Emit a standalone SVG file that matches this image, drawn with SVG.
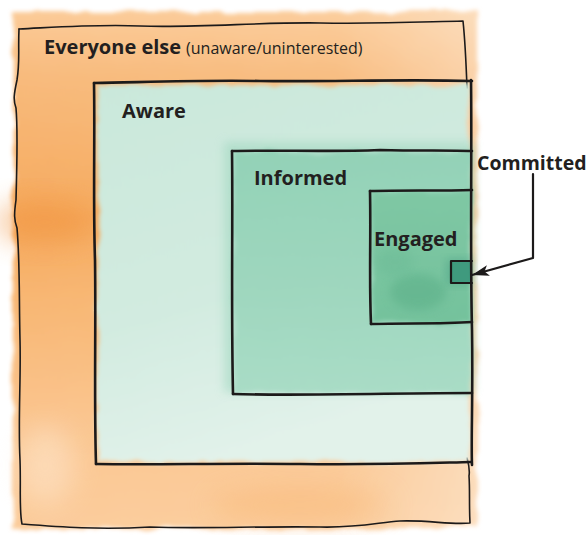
<svg xmlns="http://www.w3.org/2000/svg" width="588" height="535" viewBox="0 0 588 535">
  <defs>
    <style>
      .ink { fill: none; stroke: #1c1a1a; stroke-linecap: round; stroke-linejoin: round; }
      .thin { stroke-width: 1.6; }
      .thick { stroke-width: 2.6; }
      .label { font-family: "Open Sans", "Noto Sans", "Liberation Sans", sans-serif; font-weight: 700; font-size: 20px; fill: #231f20; }
      .note { font-family: "Open Sans", "Noto Sans", "Liberation Sans", sans-serif; font-weight: 400; font-size: 16px; fill: #231f20; }
    </style>
    <!-- soft, ragged watercolour edges -->
    <filter id="wash" x="-10%" y="-10%" width="120%" height="120%">
      <feTurbulence type="fractalNoise" baseFrequency="0.035" numOctaves="3" seed="4" result="n"/>
      <feDisplacementMap in="SourceGraphic" in2="n" scale="9" xChannelSelector="R" yChannelSelector="G" result="d"/>
      <feGaussianBlur in="d" stdDeviation="2.2"/>
    </filter>
    <filter id="blob" x="-50%" y="-50%" width="200%" height="200%">
      <feGaussianBlur stdDeviation="14"/>
    </filter>
    <filter id="soft" x="-20%" y="-20%" width="140%" height="140%">
      <feGaussianBlur stdDeviation="5"/>
    </filter>
    <linearGradient id="orangeV" x1="0" y1="0" x2="0" y2="1">
      <stop offset="0" stop-color="#fbcb98"/>
      <stop offset="0.12" stop-color="#f8bb7d"/>
      <stop offset="0.4" stop-color="#f6aa5e"/>
      <stop offset="0.55" stop-color="#f8b672"/>
      <stop offset="0.8" stop-color="#fac58f"/>
      <stop offset="1" stop-color="#fbcc9b"/>
    </linearGradient>
    <linearGradient id="orangeH" x1="0" y1="0" x2="1" y2="0">
      <stop offset="0" stop-color="#ffffff" stop-opacity="0"/>
      <stop offset="0.7" stop-color="#ffffff" stop-opacity="0.05"/>
      <stop offset="1" stop-color="#ffffff" stop-opacity="0.35"/>
    </linearGradient>
    <linearGradient id="awareFill" x1="0" y1="0" x2="0.3" y2="1">
      <stop offset="0" stop-color="#cae8db"/>
      <stop offset="0.6" stop-color="#d2ebe0"/>
      <stop offset="1" stop-color="#e2f2ea"/>
    </linearGradient>
    <linearGradient id="informedFill" x1="0" y1="0" x2="0" y2="1">
      <stop offset="0" stop-color="#93d2b7"/>
      <stop offset="0.5" stop-color="#9dd6bd"/>
      <stop offset="1" stop-color="#a9dcc6"/>
    </linearGradient>
    <linearGradient id="engagedFill" x1="0" y1="0" x2="0" y2="1">
      <stop offset="0" stop-color="#7fc7a4"/>
      <stop offset="1" stop-color="#74c29c"/>
    </linearGradient>
    <marker id="head" markerUnits="userSpaceOnUse" markerWidth="18" markerHeight="12" refX="17" refY="6" orient="auto">
      <path d="M0,0.5 L17,6 L0,11.5 L4,6 z" fill="#1c1a1a"/>
    </marker>
  </defs>

  <rect width="588" height="535" fill="#ffffff"/>

  <!-- Outermost population -->
  <g id="everyone-else">
    <g filter="url(#wash)">
      <rect x="13" y="12" width="464" height="516" fill="url(#orangeV)"/>
      <rect x="13" y="12" width="464" height="516" fill="url(#orangeH)"/>
    </g>
    <ellipse cx="45" cy="222" rx="50" ry="22" fill="#f0913a" opacity="0.5" filter="url(#blob)"/>
    <ellipse cx="45" cy="465" rx="30" ry="40" fill="#fff3e4" opacity="0.4" filter="url(#blob)"/>
    <ellipse cx="300" cy="505" rx="90" ry="18" fill="#f7b069" opacity="0.4" filter="url(#blob)"/>
    <path class="ink thin" d="M19,29 C60,27 100,24 140,26 C200,28 260,22 320,23 C380,24 420,22 463,21 C465,40 466,60 467,88"/>
    <path class="ink thin" d="M19,29 C18,50 20,62 17,80 C14,94 13,100 16,108 C18,130 17,165 16,200 C14,214 14,220 17,228 C20,262 19,300 20,340 C21,380 18,420 20,460 C21,490 19,510 22,524 C60,527 100,530 150,527 C200,529 260,526 320,527 C360,528 380,522 400,521 C430,520 450,525 470,523 C469,505 470,490 469,476 C470,470 469,465 467,458"/>
    <text x="44" y="54"><tspan class="label">Everyone else</tspan><tspan class="note" dx="5">(unaware/uninterested)</tspan></text>
  </g>

  <g id="aware">
    <rect x="97" y="85" width="372" height="377" fill="url(#awareFill)" filter="url(#wash)"/>
    <path class="ink thick" d="M94,83 C150,82 200,80 260,81 C330,82 400,79 472,81"/>
    <path class="ink thick" d="M94,83 C95,140 93,200 95,260 C96,330 94,400 96,464"/>
    <path class="ink thick" d="M96,464 C160,465 220,463 300,464 C380,465 430,463 471,462"/>
    <text class="label" x="122" y="118">Aware</text>
  </g>

  <g id="informed">
    <rect x="224" y="142" width="250" height="250" fill="#a2d8c1" opacity="0.6" filter="url(#soft)"/>
    <rect x="234" y="152" width="237" height="241" fill="url(#informedFill)" filter="url(#wash)"/>
    <path class="ink thick" d="M232,151 C280,150 330,152 380,150 C420,151 450,150 472,151"/>
    <path class="ink thick" d="M232,151 C233,220 231,300 233,394"/>
    <path class="ink thick" d="M233,394 C300,396 400,393 472,393"/>
    <text class="label" x="254" y="185">Informed</text>
  </g>

  <g id="engaged">
    <rect x="372" y="192" width="99" height="131" fill="url(#engagedFill)" filter="url(#wash)"/>
    <ellipse cx="418" cy="292" rx="28" ry="18" fill="#5db089" opacity="0.6" filter="url(#soft)"/>
    <ellipse cx="395" cy="262" rx="18" ry="14" fill="#69b994" opacity="0.4" filter="url(#soft)"/>
    <path class="ink thick" d="M370,191 C400,190 440,191 472,190"/>
    <path class="ink thick" d="M370,191 C371,240 369,280 371,324"/>
    <path class="ink thick" d="M371,324 C410,323 440,324 472,322"/>
    <text class="label" x="374" y="246">Engaged</text>
  </g>

  <g id="committed">
    <rect x="446" y="259" width="26" height="26" fill="#4a9f84" opacity="0.5" filter="url(#soft)"/>
    <rect x="451" y="261" width="21" height="22" fill="#3f9a7e"/>
    <path class="ink" stroke-width="2.2" d="M451,261 L472,261 M451,261 L451,283 L472,283"/>
    <text class="label" x="477" y="170" style="font-size:19.5px">Committed</text>
  </g>

  <!-- shared right-hand edge of the nested boxes -->
  <g id="connectors">
    <path class="ink thick" d="M471,80 C472,150 470,250 472,330 C473,400 471,440 472,465"/>
    <path class="ink" stroke-width="2.2" d="M533,174 L533,258 L472,275" marker-end="url(#head)"/>
  </g>
</svg>
